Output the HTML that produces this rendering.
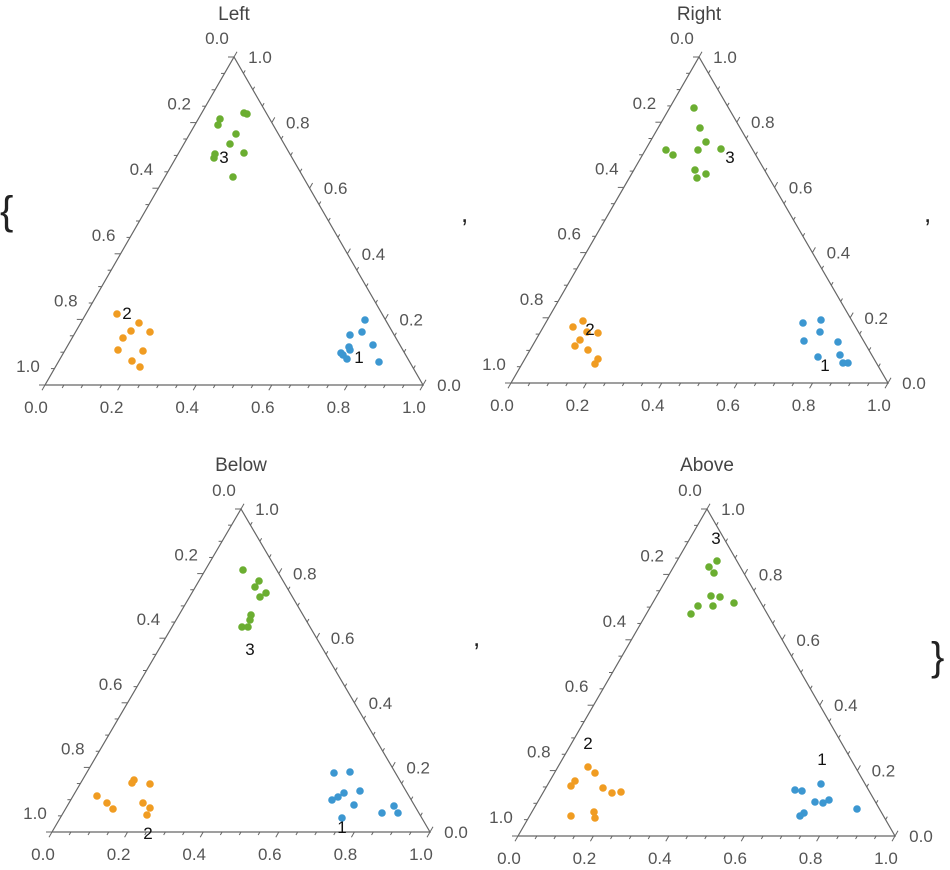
<!DOCTYPE html>
<html><head><meta charset="utf-8">
<style>
html,body{margin:0;padding:0;background:#fff;}
svg{display:block;font-family:"Liberation Sans",Arial,sans-serif;}
</style></head>
<body>
<svg id="s" width="950" height="870" viewBox="0 0 950 870" xmlns="http://www.w3.org/2000/svg">
<g font-size="40" fill="#222">
<text x="0" y="224">{</text>
<text x="931" y="670">}</text>
</g>
<g font-size="26" fill="#222">
<text x="461" y="222">,</text>
<text x="924" y="222">,</text>
<text x="473" y="646">,</text>
</g>
</svg>
<script>
var s=document.getElementById('s'),NS='http://www.w3.org/2000/svg';
function el(t,a,txt){var e=document.createElementNS(NS,t);for(var k in a)e.setAttribute(k,a[k]);if(txt!=null)e.textContent=txt;s.appendChild(e);return e;}
var B='#3c97d1',O='#f09c22',G='#6bae31';
var P=[
{t:'Left',bl:[45,385],br:[423,385],tp:[234,57],
 g:[[220,119],[218,125],[244,113],[247,114],[236,134],[230,144],[215,154],[214,158],[244,153],[233,177]],gl:[224,164],
 o:[[117,314],[139,323],[131,331],[150,332],[123,338],[118,350],[143,351],[132,361],[140,367]],ol:[127,320],
 b:[[365,320],[362,332],[350,335],[349,347],[350,350],[373,345],[341,353],[343,355],[347,359],[379,362]],bl2:[359,364]},
{t:'Right',bl:[511,383],br:[888,383],tp:[699,57],
 g:[[694,108],[700,128],[706,142],[698,150],[721,149],[666,150],[673,155],[695,170],[706,174],[697,178]],gl:[730,164],
 o:[[583,321],[573,327],[587,332],[598,333],[580,340],[575,346],[588,350],[598,359],[595,364]],ol:[590,336],
 b:[[803,323],[821,320],[804,341],[820,332],[838,342],[818,357],[840,355],[843,363],[848,363]],bl2:[825,372]},
{t:'Below',bl:[52,832],br:[430,832],tp:[241,509],
 g:[[243,570],[259,581],[255,587],[266,593],[260,597],[251,615],[250,620],[242,627],[248,627]],gl:[250,656],
 o:[[97,796],[134,780],[150,784],[107,803],[113,809],[143,803],[150,808],[147,815],[132,783]],ol:[148,840],
 b:[[334,773],[350,772],[344,793],[338,797],[332,800],[360,791],[354,805],[382,813],[394,806],[398,813],[342,818]],bl2:[342,834]},
{t:'Above',bl:[518,836],br:[895,836],tp:[707,509],
 g:[[717,561],[709,567],[714,573],[711,596],[720,597],[734,603],[713,606],[698,606],[691,614]],gl:[716,545],
 o:[[588,767],[595,773],[575,781],[571,786],[603,788],[612,793],[621,792],[594,812],[595,818],[571,816]],ol:[588,750],
 b:[[821,784],[795,790],[802,791],[815,802],[823,803],[829,800],[857,809],[804,813],[800,816]],bl2:[822,766]}
];
P.forEach(function(p){
 var bl=p.bl,br=p.br,tp=p.tp;
 el('polygon',{points:bl+' '+br+' '+tp,fill:'none',stroke:'#666','stroke-width':1.2});
 el('text',{x:tp[0],y:p.bl[1]<500?20:471,'font-size':19,fill:'#444','text-anchor':'middle'},p.t);
 for(var i=0;i<=20;i++){
  var f=i/20,L=(i%4==0)?6:3.5;
  var x=bl[0]+f*(br[0]-bl[0]),y=bl[1];
  el('line',{x1:x,y1:y,x2:x-L*0.5,y2:y+L*0.87,stroke:'#666','stroke-width':1});
  var lx=tp[0]+f*(bl[0]-tp[0]),ly=tp[1]+f*(bl[1]-tp[1]);
  el('line',{x1:lx,y1:ly,x2:lx-L,y2:ly,stroke:'#666','stroke-width':1});
  var rx=tp[0]+f*(br[0]-tp[0]),ry=tp[1]+f*(br[1]-tp[1]);
  el('line',{x1:rx,y1:ry,x2:rx+L*0.5,y2:ry-L*0.87,stroke:'#666','stroke-width':1});
  if(i%4==0){
   var v=(f).toFixed(1),w=(1-f).toFixed(1);
   el('text',{x:x-9,y:y+28,'font-size':17,fill:'#555','text-anchor':'middle'},v);
   el('text',{x:lx-17,y:ly-13,'font-size':17,fill:'#555','text-anchor':'middle'},v);
   el('text',{x:rx+26,y:ry+6,'font-size':17,fill:'#555','text-anchor':'middle'},w);
  }
 }
 [[p.b,B],[p.o,O],[p.g,G]].forEach(function(q){q[0].forEach(function(c){el('circle',{cx:c[0],cy:c[1],r:3.8,fill:q[1]});});});
 el('text',{x:p.bl2[0],y:p.bl2[1]-1,'font-size':17,fill:'#111','text-anchor':'middle'},'1');
 el('text',{x:p.ol[0],y:p.ol[1]-1,'font-size':17,fill:'#111','text-anchor':'middle'},'2');
 el('text',{x:p.gl[0],y:p.gl[1]-1,'font-size':17,fill:'#111','text-anchor':'middle'},'3');
});
</script>
</body></html>
